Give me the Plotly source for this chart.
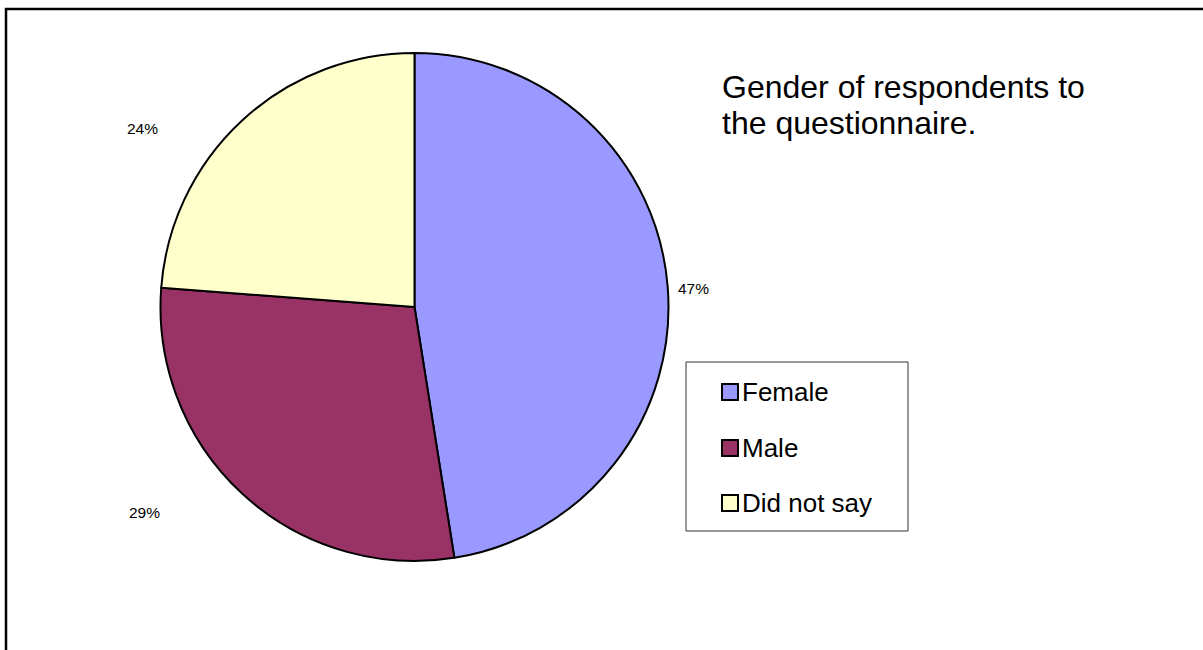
import plotly.graph_objects as go

categories = ["Female", "Male", "Did not say"]
values = [47.49, 28.72, 23.79]
colors = ["#9999FF", "#993366", "#FFFFCC"]
title_lines = ["Gender of respondents to", "the questionnaire."]

W, H = 1203, 650
FONT = "Liberation Sans, Arial, sans-serif"


def px(x):
    return x / W


def py(y):
    return 1 - y / H


fig = go.Figure(
    go.Pie(
        labels=categories,
        values=values,
        sort=False,
        direction="clockwise",
        rotation=0,
        marker=dict(colors=colors, line=dict(color="black", width=2)),
        textinfo="none",
        hoverinfo="label+percent",
        domain=dict(x=[px(160), px(669)], y=[py(561), py(53)]),
        showlegend=False,
    )
)

total = sum(values)
annotations = []
shapes = []

# percentage labels (Excel-style outside positions)
label_pos = [(693, 288), (144, 512), (142, 128)]
for v, (lx, ly) in zip(values, label_pos):
    annotations.append(dict(
        x=px(lx), y=py(ly), xref="paper", yref="paper", showarrow=False,
        text=f"{round(v / total * 100)}%", xanchor="center", yanchor="middle",
        font=dict(family=FONT, size=15.5, color="black"),
    ))

# title text block
for i, line in enumerate(title_lines):
    annotations.append(dict(
        x=px(720), y=py(87 + i * 36), xref="paper", yref="paper", showarrow=False,
        text=line, xanchor="left", yanchor="middle",
        font=dict(family=FONT, size=32, color="black"),
    ))

# outer chart frame
shapes.append(dict(type="rect", xref="paper", yref="paper",
                   x0=px(6), x1=px(1220), y0=py(670), y1=py(9),
                   line=dict(color="black", width=2.5), fillcolor="rgba(0,0,0,0)"))

# legend box
shapes.append(dict(type="rect", xref="paper", yref="paper",
                   x0=px(686), x1=px(908), y0=py(531), y1=py(362),
                   line=dict(color="#333333", width=1), fillcolor="white"))
legend_y = [392, 448, 503]
for cat, col, ly in zip(categories, colors, legend_y):
    shapes.append(dict(type="rect", xref="paper", yref="paper",
                       x0=px(722), x1=px(738), y0=py(ly + 8), y1=py(ly - 8),
                       line=dict(color="black", width=2), fillcolor=col))
    annotations.append(dict(
        x=px(740), y=py(ly), xref="paper", yref="paper", showarrow=False,
        text=cat, xanchor="left", yanchor="middle",
        font=dict(family=FONT, size=26, color="black"),
    ))

fig.update_layout(
    width=W, height=H,
    margin=dict(l=0, r=0, t=0, b=0),
    paper_bgcolor="white", plot_bgcolor="white",
    annotations=annotations, shapes=shapes,
    font=dict(family=FONT),
)

fig.write_html("out.html")
